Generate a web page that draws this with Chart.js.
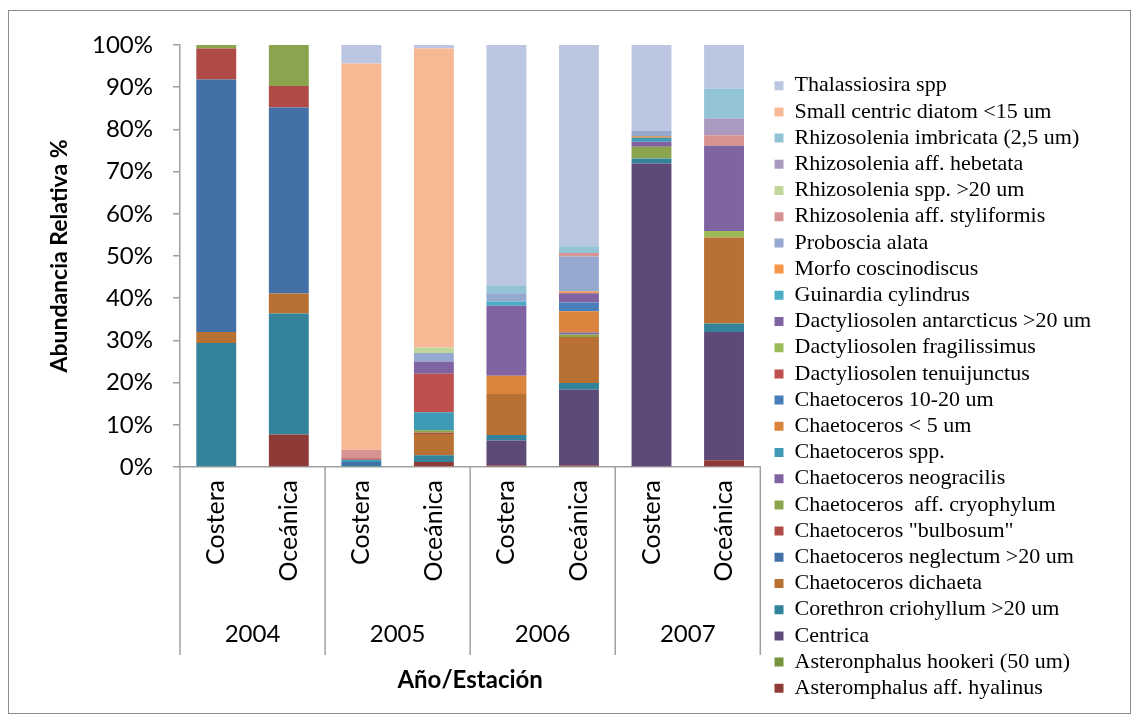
<!DOCTYPE html>
<html>
<head>
<meta charset="utf-8">
<script src="https://cdn.jsdelivr.net/npm/chart.js@4.4.1/dist/chart.umd.min.js"></script>
<style>
  body { margin: 0; background: #fff; }
  #wrap { position: relative; width: 1137px; height: 723px; }
  #frame { position: absolute; left: 8px; top: 10px; width: 1121px; height: 702px; border: 1px solid #8c8c8c; pointer-events: none; }
</style>
</head>
<body>
<div id="wrap">
  <canvas id="grafico" width="1137" height="723"></canvas>
  <div id="frame"></div>
</div>
<script>
// estaciones (eje x) y años
var sites = ['Costera', 'Oceánica', 'Costera', 'Oceánica', 'Costera', 'Oceánica', 'Costera', 'Oceánica'];
var years = ['2004', '2005', '2006', '2007'];
var yTicks = [0, 10, 20, 30, 40, 50, 60, 70, 80, 90, 100];

// especies, de abajo hacia arriba en la pila
var species = [
  'Asteromphalus aff. hyalinus',
  'Asteronphalus hookeri (50 um)',
  'Centrica',
  'Corethron criohyllum >20 um',
  'Chaetoceros dichaeta',
  'Chaetoceros neglectum >20 um',
  'Chaetoceros "bulbosum"',
  'Chaetoceros  aff. cryophylum',
  'Chaetoceros neogracilis',
  'Chaetoceros spp.',
  'Chaetoceros < 5 um',
  'Chaetoceros 10-20 um',
  'Dactyliosolen tenuijunctus',
  'Dactyliosolen fragilissimus',
  'Dactyliosolen antarcticus >20 um',
  'Guinardia cylindrus',
  'Morfo coscinodiscus',
  'Proboscia alata',
  'Rhizosolenia aff. styliformis',
  'Rhizosolenia spp. >20 um',
  'Rhizosolenia aff. hebetata',
  'Rhizosolenia imbricata (2,5 um)',
  'Small centric diatom <15 um',
  'Thalassiosira spp'
];

// % por estacion: 04C, 04O, 05C, 05O, 06C, 06O, 07C, 07O
var values = [
  [0, 7.7, 0, 1.2, 0.4, 0.4, 0, 1.6],
  [0, 0, 0, 0, 0, 0, 0, 0],
  [0, 0, 0, 0, 5.9, 17.9, 71.9, 30.4],
  [29.4, 28.7, 0.5, 1.6, 1.3, 1.6, 1.2, 2.0],
  [2.6, 4.7, 0, 5.0, 9.7, 10.9, 0, 20.4],
  [59.8, 44.1, 0.7, 0, 0, 0, 0, 0],
  [7.4, 5.1, 0, 0.3, 0, 0, 0, 0],
  [0.8, 9.7, 0, 0.6, 0, 0.6, 2.8, 0],
  [0, 0, 0, 0, 0, 0.5, 1.2, 0],
  [0, 0, 0.5, 4.3, 0, 0, 0.9, 0],
  [0, 0, 0, 0, 4.3, 5.0, 0.4, 0],
  [0, 0, 0, 0, 0, 2.1, 0, 0],
  [0, 0, 0.4, 9.1, 0, 0, 0, 0],
  [0, 0, 0, 0, 0, 0, 0, 1.5],
  [0, 0, 0, 2.9, 16.6, 2.2, 0, 20.2],
  [0, 0, 0, 0, 1.0, 0, 0, 0],
  [0, 0, 0, 0, 0, 0.4, 0, 0],
  [0, 0, 0, 2.0, 2.0, 8.3, 1.2, 0],
  [0, 0, 2.0, 0, 0, 0.8, 0, 2.5],
  [0, 0, 0, 1.3, 0, 0, 0, 0],
  [0, 0, 0, 0, 0, 0, 0, 4.0],
  [0, 0, 0, 0, 1.7, 1.6, 0, 7.1],
  [0, 0, 91.5, 70.9, 0, 0, 0, 0],
  [0, 0, 4.4, 0.8, 57.1, 47.7, 20.4, 10.3]
];

var colores = [
  '#8E3B38', '#77933C', '#5E4A78', '#33849A', '#B87132', '#4470A8',
  '#B04A47', '#8BA54E', '#7F63A1', '#3F9BB5', '#DB843D', '#4A7EBB',
  '#C0504D', '#9BBB59', '#8064A2', '#4BACC6', '#F79646', '#95A8D0',
  '#D69391', '#C2D69B', '#AA9AC0', '#92C4D6', '#F8B893', '#BBC6E0'
];

var datasets = [];
for (i = 0; i < species.length; i++) {
  datasets.push({
    label: species[i],
    data: values[i],
    backgroundColor: colores[i],
    borderWidth: 0,
    categoryPercentage: 1,
    barPercentage: 0.55
  });
}

// lineas separadoras entre años, bajo el eje
var separadores = {
  id: 'separadores',
  afterDraw: function (chart) {
    var x = chart.scales.x;
    var ctx = chart.ctx;
    var y0 = chart.chartArea.bottom;
    ctx.save();
    ctx.strokeStyle = '#a0a0a0';
    ctx.lineWidth = 1.5;
    for (k = 0; k <= years.length; k++) {
      var px = x.left + (x.right - x.left) * k / years.length;
      ctx.beginPath();
      ctx.moveTo(px, y0);
      ctx.lineTo(px, y0 + 188);
      ctx.stroke();
    }
    ctx.restore();
  }
};

var sans = 'Lato, "Open Sans", sans-serif';

const grafico = new Chart(document.getElementById('grafico').getContext('2d'), {
  type: 'bar',
  data: { labels: sites, datasets: datasets },
  plugins: [separadores],
  options: {
    responsive: false,
    animation: false,
    layout: { padding: { top: 45, left: 40, right: 36, bottom: 0 } },
    plugins: {
      tooltip: { enabled: false },
      legend: {
        position: 'right',
        reverse: true,
        maxWidth: 420,
        title: { display: true, text: ' ', padding: 0, font: { size: 5 } },
        labels: {
          boxWidth: 9,
          boxHeight: 9,
          padding: 4.2,
          color: '#000',
          font: { family: '"Liberation Serif", "Times New Roman", serif', size: 22 }
        }
      }
    },
    scales: {
      x: {
        stacked: true,
        offset: true,
        grid: { display: false, drawTicks: false, offset: true },
        border: { display: true, color: '#a0a0a0', width: 1.5 },
        ticks: {
          minRotation: 90, maxRotation: 90, autoSkip: false, padding: 13,
          color: '#000', font: { family: sans, size: 25 }
        },
        afterFit: function (s) { s.height = 127; }
      },
      x2: {
        type: 'category',
        labels: years,
        position: 'bottom',
        offset: true,
        grid: { display: false, drawTicks: false },
        border: { display: false },
        ticks: { padding: 26, color: '#000', font: { family: sans, size: 24 } },
        title: {
          display: true, text: 'Año/Estación', color: '#000',
          font: { family: sans, size: 24, weight: 'bold' },
          padding: { top: 0, bottom: 28 }
        },
        afterFit: function (s) { s.height = 129; }
      },
      y: {
        stacked: true,
        min: 0,
        max: 100,
        afterBuildTicks: function (s) { s.ticks = yTicks.map(function (v) { return { value: v }; }); },
        grid: { drawOnChartArea: false, drawTicks: true, tickLength: 7, color: '#a0a0a0', lineWidth: 1.5 },
        border: { display: true, color: '#a0a0a0', width: 1.5 },
        ticks: {
          padding: 20, color: '#000', font: { family: sans, size: 24 },
          callback: function (v) { return v + '%'; }
        },
        title: {
          display: true, text: 'Abundancia Relativa %', color: '#000',
          font: { family: sans, size: 23, weight: 'bold' },
          padding: { top: 6, bottom: 0 }
        },
        afterFit: function (s) { s.width = 140; }
      },
      yR: {
        type: 'linear',
        position: 'right',
        display: true,
        grid: { display: false, drawTicks: false },
        border: { display: false },
        ticks: { display: false },
        afterFit: function (s) { s.width = 10; }
      }
    }
  }
});
</script>
</body>
</html>
